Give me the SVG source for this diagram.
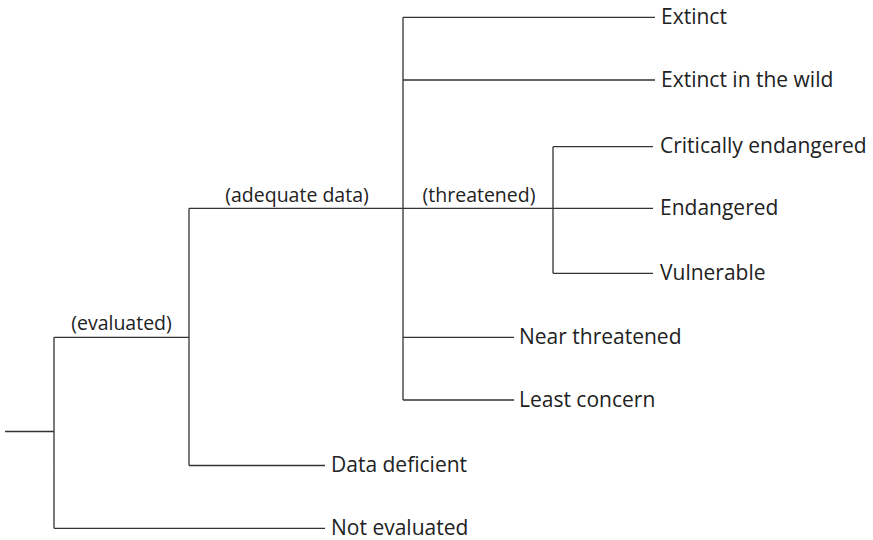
<svg xmlns="http://www.w3.org/2000/svg" width="873" height="540" viewBox="0 0 873 540">
<style>
.ln{stroke:#333;stroke-width:1.3;fill:none}
text{font-family:"Open Sans","Noto Sans",sans-serif;font-size:21px;fill:#222}
.mid{text-anchor:middle;font-size:19.5px}
</style>
<rect width="873" height="540" fill="#fff"/>
<g id="connectors">
<path class="ln" d="M5,431.5H54M54,337.3V528.3M54,337.3H189M54,528.3H325M189,208.3V465.5M189,465.5H325M189,208.3H653M403,17.3V400M403,17.3H655M403,80H655M403,337.3H514M403,400H514M553,146.7V273.3M553,146.7H653M553,273.3H653"/>
</g>
<g id="label-evaluated"><text class="mid" x="121.5" y="330">(evaluated)</text></g>
<g id="label-adequate"><text class="mid" x="297" y="201.5">(adequate data)</text></g>
<g id="label-threatened"><text class="mid" x="479" y="201.5">(threatened)</text></g>
<g id="node-extinct"><text x="661" y="24">Extinct</text></g>
<g id="node-extinct-wild"><text x="661" y="86.5">Extinct in the wild</text></g>
<g id="node-critically"><text x="660" y="153">Critically endangered</text></g>
<g id="node-endangered"><text x="660" y="215">Endangered</text></g>
<g id="node-vulnerable"><text x="660" y="279.5">Vulnerable</text></g>
<g id="node-near"><text x="519" y="343.5">Near threatened</text></g>
<g id="node-least"><text x="519" y="406.5">Least concern</text></g>
<g id="node-data-deficient"><text x="331" y="472">Data deficient</text></g>
<g id="node-not-evaluated"><text x="331" y="534.5">Not evaluated</text></g>
</svg>
